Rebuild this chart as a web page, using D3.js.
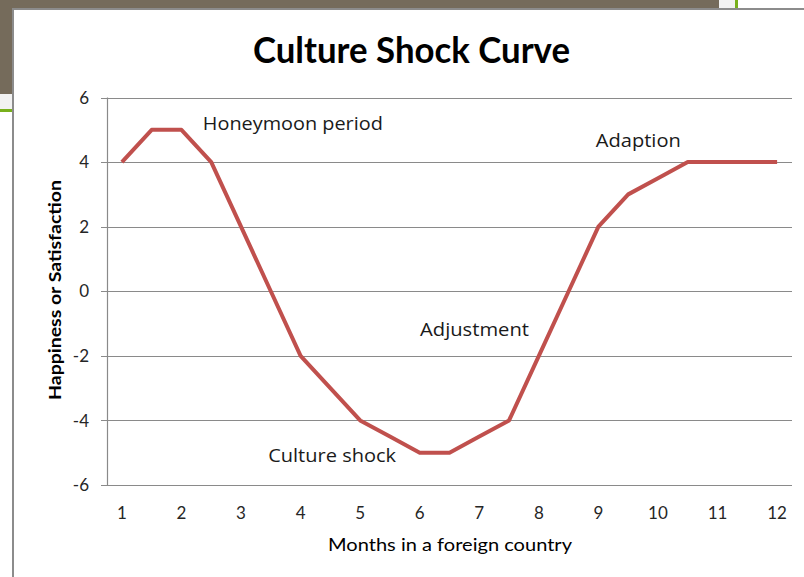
<!DOCTYPE html>
<html>
<head>
<meta charset="utf-8">
<script src="https://cdn.jsdelivr.net/npm/d3@7"></script>
<style>
  html, body { margin: 0; padding: 0; background: #ffffff; }
  svg { display: block; }
</style>
</head>
<body>
<svg id="chart" width="804" height="577"></svg>
<script>
// ---- data ----
const months = ["1","1.5","2","2.5","3","3.5","4","4.5","5","5.5","6","6.5","7","7.5","8","8.5","9","9.5","10","10.5","11","11.5","12"];
const happiness = [4,5,5,4,2,0,-2,-3,-4,-4.5,-5,-5,-4.5,-4,-2,0,2,3,3.5,4,4,4,4];
const xTickLabels = ["1","2","3","4","5","6","7","8","9","10","11","12"];
const yTicks = [-6,-4,-2,0,2,4,6];
const annotationTexts = ["Honeymoon period", "Adaption", "Adjustment", "Culture shock"];
const annotationMonths = [3.87, 9.67, 6.92, 4.53];
const annotationValues = [5.18, 4.68, -1.17, -5.1];
const title = "Culture Shock Curve";
const xTitle = "Months in a foreign country";
const yTitle = "Happiness or Satisfaction";

// ---- layout ----
const svg = d3.select("#chart");
const plot = { left: 107, right: 792, top: 97.5, bottom: 485 };
const annotationWidths = [180, 85, 109, 128];

// slide background pieces
svg.append("rect").attr("x",0).attr("y",0).attr("width",719).attr("height",8).attr("fill","#756b5b");
svg.append("rect").attr("x",0).attr("y",0).attr("width",12).attr("height",94).attr("fill","#756b5b");
svg.append("rect").attr("x",0).attr("y",94).attr("width",12).attr("height",15).attr("fill","#f2f2f2");
svg.append("rect").attr("x",0).attr("y",109).attr("width",12).attr("height",3).attr("fill","#78b01c");
svg.append("rect").attr("x",719).attr("y",0).attr("width",16).attr("height",8).attr("fill","#f2f2f2");
svg.append("rect").attr("x",735).attr("y",0).attr("width",3).attr("height",8).attr("fill","#78b01c");
// chart frame
svg.append("rect").attr("x",12).attr("y",8).attr("width",792).attr("height",2).attr("fill","#8c8c8c");
svg.append("rect").attr("x",12).attr("y",8).attr("width",2).attr("height",569).attr("fill","#8c8c8c");

// scales
const x = d3.scaleBand().domain(months).range([plot.left, plot.right]).paddingInner(0).paddingOuter(0);
const cx = m => x(m) + x.bandwidth() / 2;
const xNum = v => cx("1") + (v - 1) * x.step() * 2; // one month = two categories
const y = d3.scaleLinear().domain([-6, 6]).range([plot.bottom, plot.top]);

const fontNum = "Lato, 'Open Sans', sans-serif";
const fontNote = "'Open Sans', 'Noto Sans', sans-serif";

// gridlines (also act as y tick marks)
svg.append("g").selectAll("line").data(yTicks).join("line")
  .attr("x1", plot.left - 6).attr("x2", plot.right)
  .attr("y1", d => Math.round(y(d)) + 0.5).attr("y2", d => Math.round(y(d)) + 0.5)
  .attr("stroke", "#8a8a8a").attr("stroke-width", 1.2);

// y axis line
svg.append("line")
  .attr("x1", plot.left + 0.5).attr("x2", plot.left + 0.5)
  .attr("y1", y(6)).attr("y2", y(-6))
  .attr("stroke", "#8a8a8a").attr("stroke-width", 1.2);

// y tick labels
svg.append("g").selectAll("text").data(yTicks).join("text")
  .attr("x", 89).attr("y", d => y(d))
  .attr("dy", "0.36em")
  .attr("text-anchor", "end")
  .attr("font-family", fontNum).attr("font-size", 17).attr("fill", "#262626")
  .text(d => d);

// x tick labels (integer months only)
svg.append("g").selectAll("text").data(xTickLabels).join("text")
  .attr("x", d => cx(d)).attr("y", 513)
  .attr("dy", "0.36em")
  .attr("text-anchor", "middle")
  .attr("font-family", fontNum).attr("font-size", 17).attr("fill", "#262626")
  .text(d => d);

// line
const line = d3.line().x((d, i) => cx(months[i])).y(d => y(d));
svg.append("path").datum(happiness)
  .attr("d", line)
  .attr("fill", "none")
  .attr("stroke", "#c0504d")
  .attr("stroke-width", 4)
  .attr("stroke-linejoin", "round");

// helper to fit text width
function fit(sel, w) {
  sel.attr("textLength", w).attr("lengthAdjust", "spacingAndGlyphs");
  return sel;
}

// annotations
svg.append("g").selectAll("text").data(annotationTexts).join("text")
  .attr("x", (d, i) => xNum(annotationMonths[i])).attr("y", (d, i) => y(annotationValues[i]))
  .attr("dy", "0.35em")
  .attr("text-anchor", "middle")
  .attr("font-family", fontNote).attr("font-size", 18.5).attr("fill", "#1a1a1a")
  .attr("textLength", (d, i) => annotationWidths[i])
  .attr("lengthAdjust", "spacingAndGlyphs")
  .text(d => d);

// title
fit(svg.append("text")
  .attr("x", 411.5).attr("y", 63)
  .attr("text-anchor", "middle")
  .attr("font-family", fontNum).attr("font-weight", "bold")
  .attr("font-size", 36).attr("fill", "#000")
  .text(title), 317);

// x axis title
fit(svg.append("text")
  .attr("x", 450).attr("y", 551)
  .attr("text-anchor", "middle")
  .attr("font-family", fontNum).attr("font-size", 18).attr("fill", "#000")
  .text(xTitle), 244);

// y axis title
fit(svg.append("text")
  .attr("transform", "translate(61,290) rotate(-90)")
  .attr("text-anchor", "middle")
  .attr("font-family", fontNum).attr("font-weight", "bold")
  .attr("font-size", 17).attr("fill", "#000")
  .text(yTitle), 220);
</script>
</body>
</html>
